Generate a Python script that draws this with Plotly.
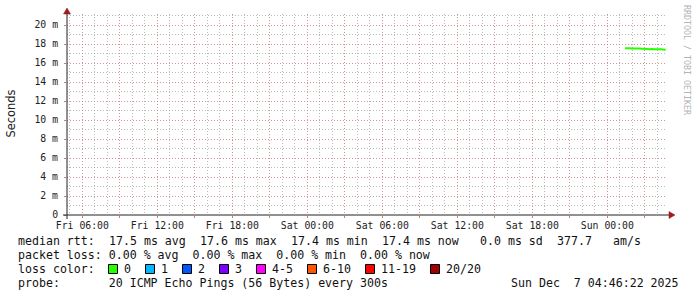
import pandas as pd
import plotly.graph_objects as go

# ---------------- data ----------------
series_start = "2025-12-07 01:25"
step = "5min"
median_rtt_ms = [17.56, 17.57, 17.56, 17.55, 17.56, 17.55, 17.54, 17.53, 17.50, 17.48,
                 17.47, 17.50, 17.52, 17.53, 17.52, 17.50, 17.48, 17.46, 17.47, 17.49,
                 17.48, 17.47, 17.45, 17.44, 17.46, 17.47, 17.45, 17.44, 17.43, 17.45,
                 17.46, 17.44, 17.43, 17.42, 17.43, 17.44, 17.43, 17.42, 17.41, 17.40]

x_range = ["2025-12-05 04:46:22", "2025-12-07 04:46:22"]
x_tick_labels = ["Fri 06:00", "Fri 12:00", "Fri 18:00", "Sat 00:00",
                 "Sat 06:00", "Sat 12:00", "Sat 18:00", "Sun 00:00"]
y_tick_values = [0, 2, 4, 6, 8, 10, 12, 14, 16, 18, 20]
y_tick_labels = ["0", "2 m", "4 m", "6 m", "8 m", "10 m", "12 m", "14 m", "16 m", "18 m", "20 m"]
y_max = 21.16

legend_rtt_items = ["median rtt:", "17.5 ms avg", "17.6 ms max", "17.4 ms min",
                    "17.4 ms now", "0.0 ms sd", "377.7", "am/s"]
legend_rtt_cols = [0, 13, 26, 39, 52, 66, 77, 85]
legend_loss = "packet loss: 0.00 % avg  0.00 % max  0.00 % min  0.00 % now"
legend_color_title = "loss color:"
loss_labels = ["0", "1", "2", "3", "4-5", "6-10", "11-19", "20/20"]
loss_colors = ["#26ff00", "#00b8ff", "#0059ff", "#7e00ff", "#ff00ff", "#ff5500", "#ff0000", "#a10000"]
legend_probe = "probe:       20 ICMP Echo Pings (56 Bytes) every 300s"
legend_date = "Sun Dec  7 04:46:22 2025"
y_title = "Seconds"
watermark = "RRDTOOL / TOBI OETIKER"

# ---------------- geometry helpers (pixel -> paper) ----------------
W, H = 697, 297
ML, MR, MT, MB = 67, 30, 14, 82
PW, PH = W - ML - MR, H - MT - MB
CHAR = 7.0
TX0 = 16


def px(X):
    return (X - ML) / PW


def py(Y):
    return (H - MB - Y) / PH


MONO = "DejaVu Sans Mono"
nb = lambda s: s.replace(" ", "\u00a0")

times = pd.date_range(series_start, periods=len(median_rtt_ms), freq=step)

# x ticks every 3h (major grid), labels every 6h
tick_times = pd.date_range("2025-12-05 06:00", periods=2 * len(x_tick_labels), freq="3h")
tick_text = [x_tick_labels[i // 2] if i % 2 == 0 else "" for i in range(len(tick_times))]

fig = go.Figure()
fig.add_trace(go.Scatter(x=times, y=median_rtt_ms, mode="lines",
                         line=dict(color=loss_colors[0], width=2),
                         showlegend=False, hoverinfo="skip"))

MAJOR = "rgba(230,110,110,0.5)"
MINOR = "rgba(130,130,130,0.55)"
DASH = "1px,2px"

fig.update_layout(
    width=W, height=H, autosize=False,
    margin=dict(l=ML, r=MR, t=MT, b=MB, pad=0),
    paper_bgcolor="white", plot_bgcolor="white",
    showlegend=False,
    xaxis=dict(
        type="date", range=x_range,
        tickmode="array", tickvals=tick_times, ticktext=tick_text,
        showgrid=True, gridcolor=MAJOR, griddash=DASH, gridwidth=1,
        ticks="outside", ticklen=2, tickcolor="#c08080",
        tickfont=dict(family=MONO, size=9.8, color="#222"),
        ticklabelstandoff=-1,
        showline=False, zeroline=False,
        minor=dict(dtick=3600000, tick0="2025-12-05 00:00", showgrid=True,
                   gridcolor=MINOR, griddash=DASH, gridwidth=1),
    ),
    yaxis=dict(
        range=[0, y_max],
        tickmode="array", tickvals=y_tick_values, ticktext=y_tick_labels,
        showgrid=True, gridcolor=MAJOR, griddash=DASH, gridwidth=1,
        ticks="outside", ticklen=2, tickcolor="#c08080",
        tickfont=dict(family=MONO, size=9.8, color="#222"),
        ticklabelstandoff=4,
        showline=False, zeroline=False,
        minor=dict(dtick=1, tick0=0, showgrid=True,
                   gridcolor=MINOR, griddash=DASH, gridwidth=1),
    ),
)

# axis lines and arrows
AX = "#222222"
ARROW = "#9b1c1c"
shapes = [
    dict(type="line", xref="paper", yref="paper", x0=px(67), x1=px(67), y0=py(219), y1=py(13),
         line=dict(color=AX, width=1)),
    dict(type="line", xref="paper", yref="paper", x0=px(63), x1=px(669), y0=py(215), y1=py(215),
         line=dict(color=AX, width=1)),
]
fig.update_layout(shapes=shapes)
fig.add_shape(type="path", xref="paper", yref="paper",
              path=f"M {px(63.5)} {py(14)} L {px(70.5)} {py(14)} L {px(67)} {py(8)} Z",
              fillcolor=ARROW, line=dict(color=ARROW, width=0.5))
fig.add_shape(type="path", xref="paper", yref="paper",
              path=f"M {px(669)} {py(211.5)} L {px(669)} {py(218.5)} L {px(675)} {py(215)} Z",
              fillcolor=ARROW, line=dict(color=ARROW, width=0.5))

# y title
fig.add_annotation(text=y_title, xref="paper", yref="paper", x=px(10.5), y=py(114),
                   textangle=-90, showarrow=False, xanchor="center", yanchor="middle",
                   font=dict(family="DejaVu Sans", size=11.4, color="#222"))
# watermark
fig.add_annotation(text=nb(watermark), xref="paper", yref="paper", x=px(687), y=py(60),
                   textangle=90, showarrow=False, xanchor="center", yanchor="middle",
                   font=dict(family=MONO, size=8.3, color="#b4b4b4"))

# legend text lines
TXT = dict(family=MONO, size=11.6, color="#111")


def text_at(s, X, Y, anchor="left"):
    fig.add_annotation(text=nb(s), xref="paper", yref="paper", x=px(X), y=py(Y),
                       showarrow=False, xanchor=anchor, yanchor="middle", font=TXT)


for s, col in zip(legend_rtt_items, legend_rtt_cols):
    text_at(s, TX0 + CHAR * col, 241)
text_at(legend_loss, TX0, 255)
text_at(legend_color_title, TX0, 269)
text_at(legend_probe, TX0, 283)
text_at(legend_date, 681, 283, anchor="right")

# loss colour boxes: box, gap, label, gap
bx = 108.0
for lab, col in zip(loss_labels, loss_colors):
    fig.add_shape(type="rect", xref="paper", yref="paper",
                  x0=px(bx + 0.5), x1=px(bx + 9.5), y0=py(264.5), y1=py(273.5),
                  fillcolor=col, line=dict(color="#000", width=1))
    text_at(lab, bx + 14, 269)
    bx += 30 + CHAR * len(lab)

fig.write_html("out.html")
